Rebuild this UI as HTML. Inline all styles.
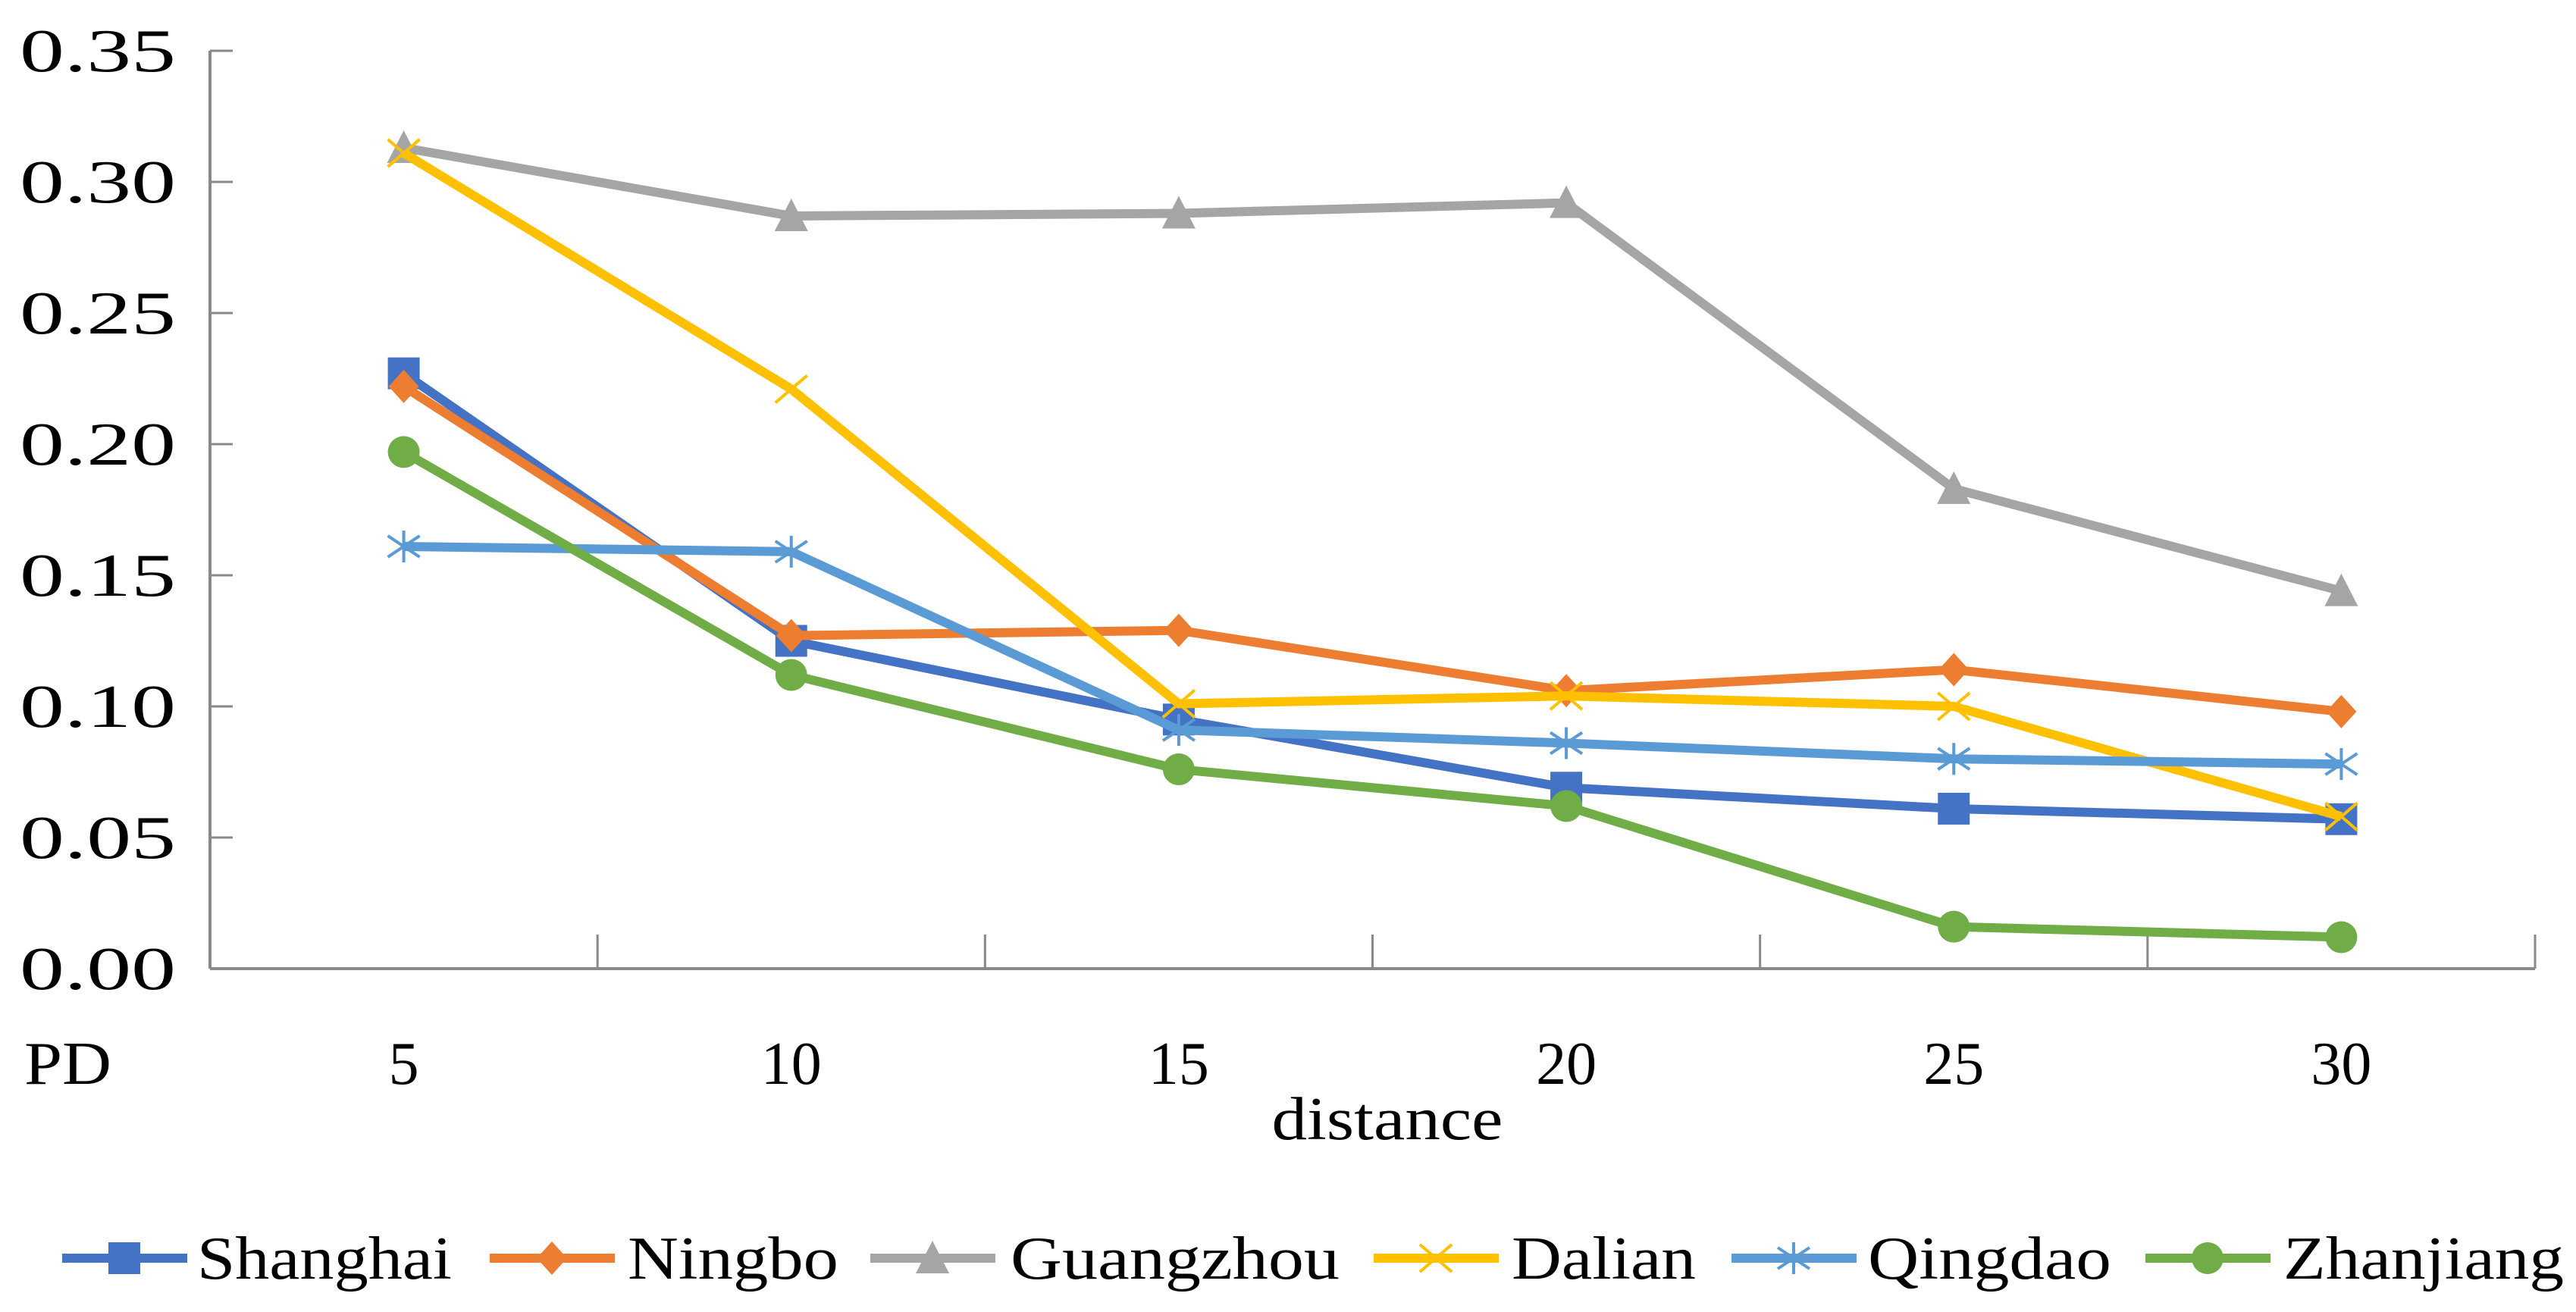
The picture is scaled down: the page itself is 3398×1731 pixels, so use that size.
<!DOCTYPE html>
<html><head><meta charset="utf-8"><style>
html,body{margin:0;padding:0;background:#fff;}
svg{display:block;}
text{font-family:"Liberation Serif",serif;fill:#000;}
</style></head><body>
<svg id="chart" width="3398" height="1731" viewBox="0 0 3398 1731" xmlns="http://www.w3.org/2000/svg">
<g id="axes"></g>
<g id="series"></g>
<g id="legend"></g>
</svg>
<script>
const categories = [5, 10, 15, 20, 25, 30];
const yTicks = ["0.00","0.05","0.10","0.15","0.20","0.25","0.30","0.35"];
const seriesNames = ["Shanghai","Ningbo","Guangzhou","Dalian","Qingdao","Zhanjiang"];
const shanghai = [0.227, 0.125, 0.095, 0.069, 0.061, 0.057];
const ningbo = [0.222, 0.127, 0.129, 0.106, 0.114, 0.098];
const guangzhou = [0.313, 0.287, 0.288, 0.292, 0.183, 0.144];
const dalian = [0.311, 0.221, 0.101, 0.104, 0.100, 0.058];
const qingdao = [0.161, 0.159, 0.091, 0.086, 0.080, 0.078];
const zhanjiang = [0.197, 0.112, 0.076, 0.062, 0.016, 0.012];

const NS = "http://www.w3.org/2000/svg";
const X0 = 277, X1 = 3344, Y0 = 1278, Y1 = 67, YMAX = 0.35;
const band = (X1 - X0) / categories.length;
function xPos(i){ return X0 + band * (i + 0.5); }
function yPos(v){ return Y0 - (v / YMAX) * (Y0 - Y1); }
function mk(tag, attrs, parent){ const e = document.createElementNS(NS, tag); for (const k in attrs) e.setAttribute(k, attrs[k]); parent.appendChild(e); return e; }

const axes = document.getElementById('axes');
const yAxis = mk('line', {x1:X0,y1:Y1,x2:X0,y2:Y0,stroke:'#898989','stroke-width':4}, axes);


const xAxis = mk('line', {x1:X0,y1:Y0,x2:X1,y2:Y0,stroke:'#898989','stroke-width':4}, axes);


yTicks.forEach((t, i) => {
  const v = parseFloat(t);
  const y = yPos(v);
  if (i > 0) {
    const tk = mk('line', {x1:X0,y1:y,x2:X0+30,y2:y,stroke:'#898989','stroke-width':3}, axes);
    
    
  }
  const lb = mk('text', {x:26,y:y+27,'font-size':80,textLength:206,lengthAdjust:'spacingAndGlyphs'}, axes);
  lb.textContent = t;
  
  
});
for (let i = 1; i <= categories.length; i++) {
  const x = X0 + band * i;
  const tk = mk('line', {x1:x,y1:Y0,x2:x,y2:Y0-45,stroke:'#898989','stroke-width':3}, axes);
  
  
}
categories.forEach((c, i) => {
  const lb = mk('text', {x:xPos(i),y:1430,'font-size':80,'text-anchor':'middle'}, axes);
  lb.textContent = c;
  
  
});
const pd = mk('text', {x:32,y:1430,'font-size':80,textLength:115,lengthAdjust:'spacingAndGlyphs'}, axes);
pd.textContent = 'PD';


const dist = mk('text', {x:1830,y:1503,'font-size':80,'text-anchor':'middle',textLength:305,lengthAdjust:'spacingAndGlyphs'}, axes);
dist.textContent = 'distance';



const colors = ['#4472C4','#ED7D31','#A5A5A5','#FFC000','#5B9BD5','#70AD47'];
const markers = ['square','diamond','triangle','x','star','circle'];
const allData = [shanghai, ningbo, guangzhou, dalian, qingdao, zhanjiang];

function drawMarker(type, x, y, color, parent){
  let m;
  if (type === 'square') m = mk('rect', {x:x-21,y:y-21,width:42,height:42,fill:color}, parent);
  else if (type === 'diamond') m = mk('polygon', {points:`${x},${y-22} ${x+20},${y} ${x},${y+22} ${x-20},${y}`,fill:color}, parent);
  else if (type === 'triangle') m = mk('polygon', {points:`${x},${y-23} ${x+22},${y+20} ${x-22},${y+20}`,fill:color}, parent);
  else if (type === 'circle') m = mk('circle', {cx:x,cy:y,r:21,fill:color}, parent);
  else if (type === 'x') m = mk('path', {d:`M${x-21} ${y-18}L${x+21} ${y+18}M${x+21} ${y-18}L${x-21} ${y+18}`,stroke:color,'stroke-width':4,fill:'none'}, parent);
  else m = mk('path', {d:`M${x-21} ${y-14}L${x+21} ${y+14}M${x+21} ${y-14}L${x-21} ${y+14}M${x} ${y-21}L${x} ${y+21}`,stroke:color,'stroke-width':4,fill:'none'}, parent);
  return m;
}

const sg = document.getElementById('series');
allData.forEach((data, s) => {
  const g = mk('g', {}, sg);
  
  
  const pts = data.map((v, i) => xPos(i) + ',' + yPos(v)).join(' ');
  const pl = mk('polyline', {points:pts,fill:'none',stroke:colors[s],'stroke-width':12,'stroke-linejoin':'round'}, g);
  
  
  data.forEach((v, i) => {
    const m = drawMarker(markers[s], xPos(i), yPos(v), colors[s], g);
    
    
  });
});

const lg = document.getElementById('legend');
const legLineX = [82, 646, 1148, 1812, 2284, 2830];
const legTextX = [260, 828, 1333, 1994, 2464, 3012];
const legTextW = [336, 278, 434, 243, 321, 370];
seriesNames.forEach((n, s) => {
  const g = mk('g', {}, lg);
  
  
  mk('line', {x1:legLineX[s],y1:1660,x2:legLineX[s]+165,y2:1660,stroke:colors[s],'stroke-width':12}, g);
  drawMarker(markers[s], legLineX[s]+82, 1660, colors[s], g);
  const t = mk('text', {x:legTextX[s],y:1687,'font-size':80,textLength:legTextW[s],lengthAdjust:'spacingAndGlyphs'}, g);
  t.textContent = n;
});
</script>
</body></html>
